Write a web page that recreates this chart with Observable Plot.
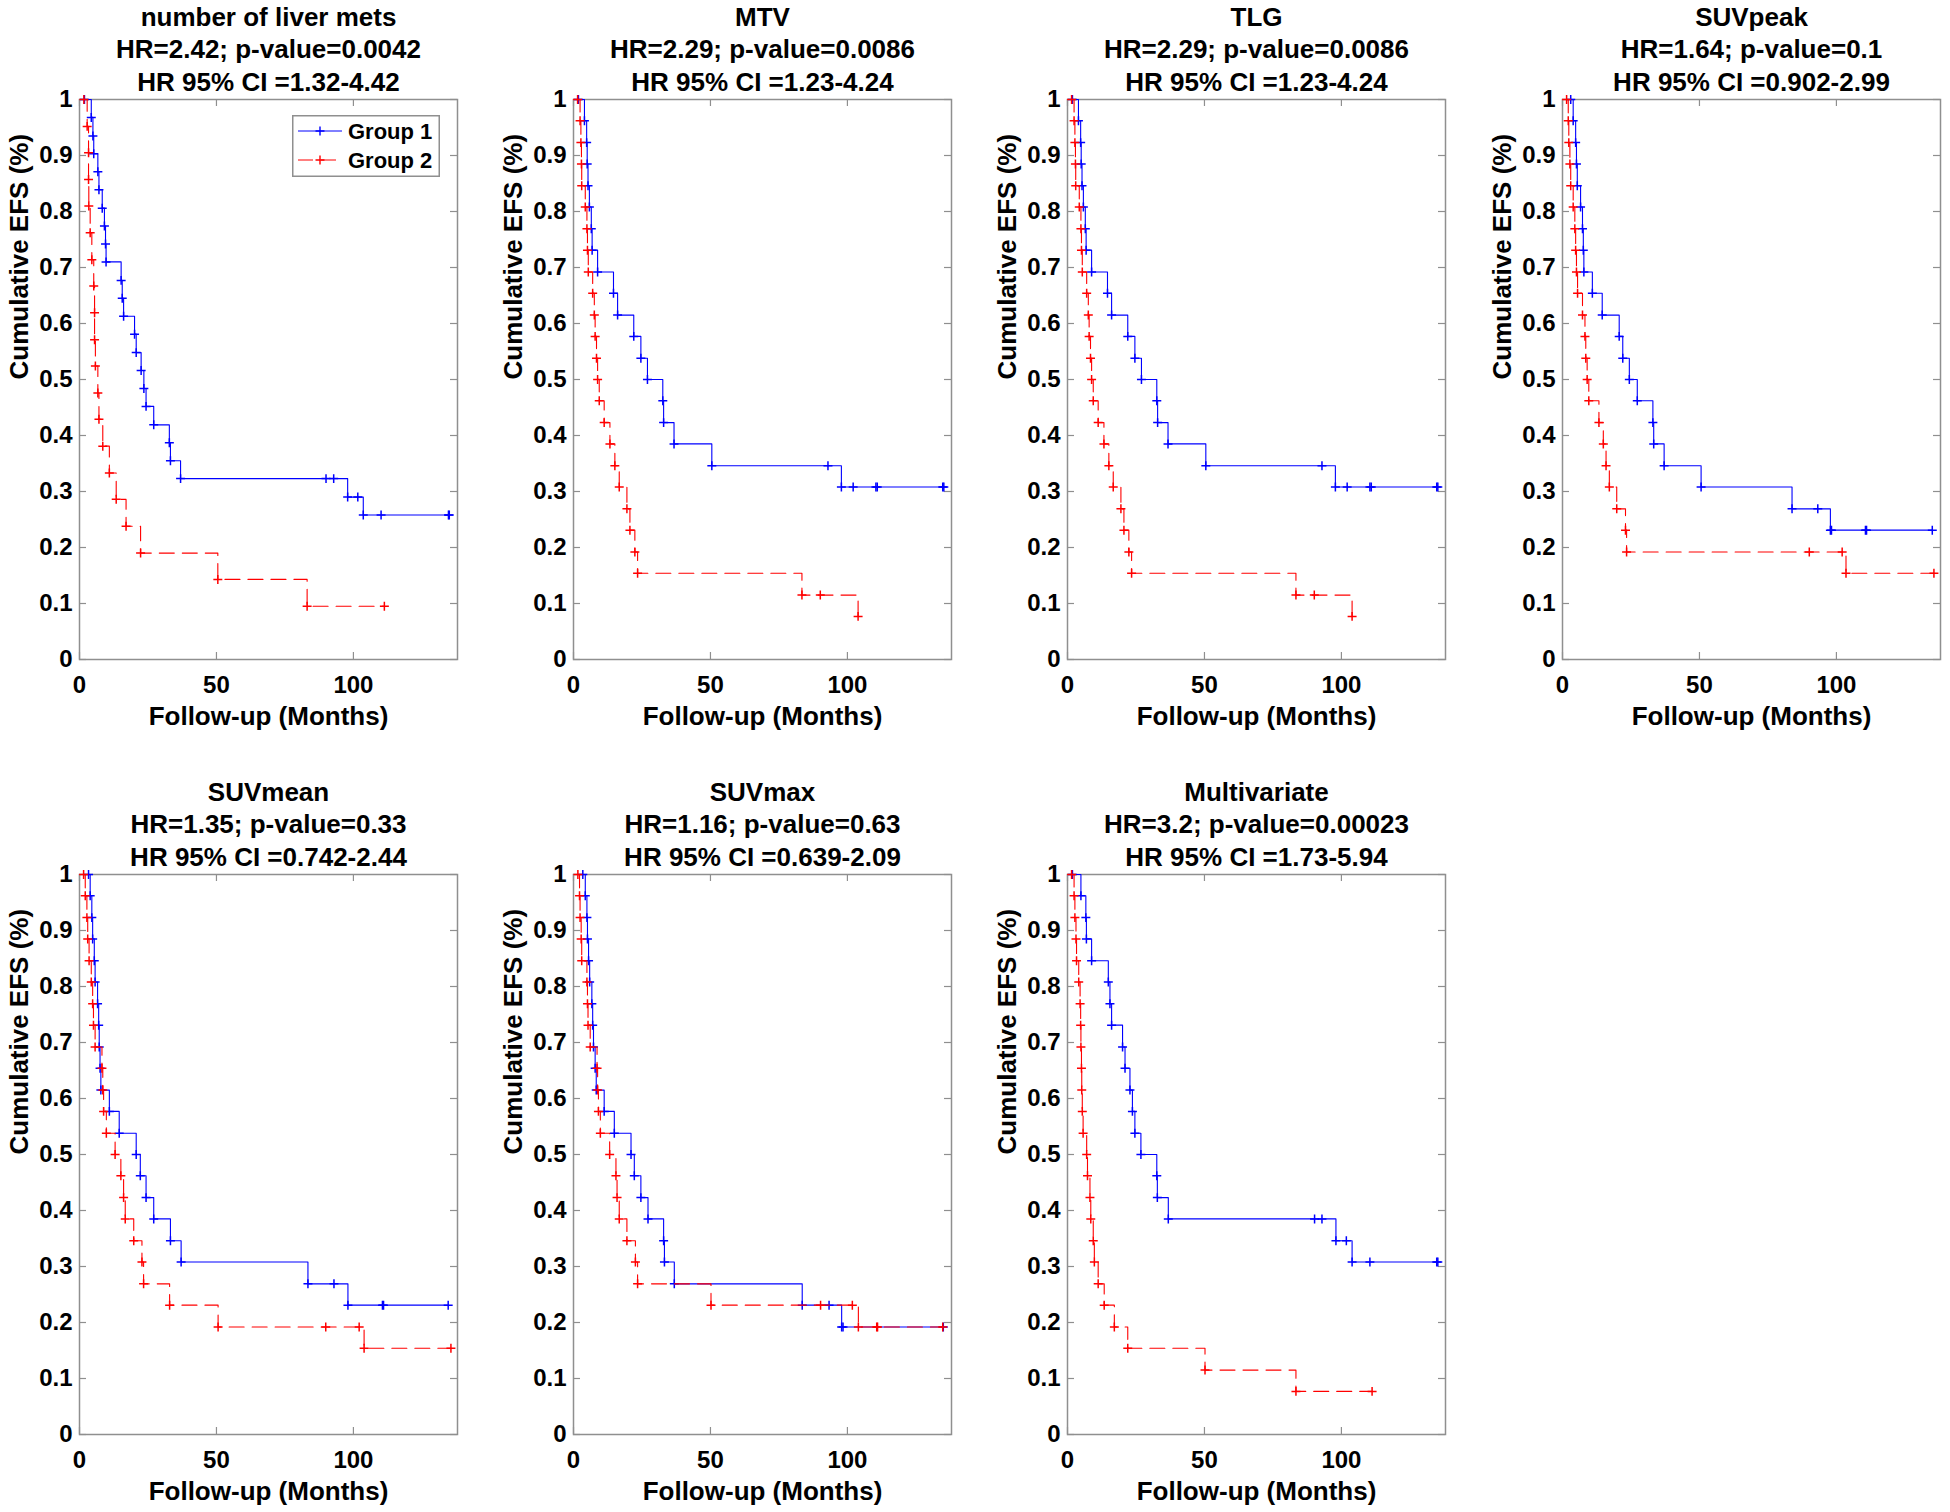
<!DOCTYPE html>
<html><head><meta charset="utf-8">
<script src="https://cdn.jsdelivr.net/npm/d3@7"></script>
<script src="https://cdn.jsdelivr.net/npm/@observablehq/plot@0.6"></script>
<style>
body{margin:0;background:#fff;}
#fig{position:relative;width:1950px;height:1512px;overflow:hidden;background:#fff;font-family:"Liberation Sans",Arial,Helvetica,sans-serif;}
.panel{position:absolute;}
.panel svg{overflow:visible;}
</style></head><body><div id="fig"></div>
<script>
// ---------- data (months, survival fraction) ----------
const xTicks = [0, 50, 100];
const yTicks = [0, 0.1, 0.2, 0.3, 0.4, 0.5, 0.6, 0.7, 0.8, 0.9, 1];
const groupNames = ["Group 1", "Group 2"];
const groupColors = ["#0000ff", "#ff0000"];
const groupDash = [null, "15,8"];

const titles = [
  ["number of liver mets", "HR=2.42; p-value=0.0042", "HR 95% CI =1.32-4.42"],
  ["MTV", "HR=2.29; p-value=0.0086", "HR 95% CI =1.23-4.24"],
  ["TLG", "HR=2.29; p-value=0.0086", "HR 95% CI =1.23-4.24"],
  ["SUVpeak", "HR=1.64; p-value=0.1", "HR 95% CI =0.902-2.99"],
  ["SUVmean", "HR=1.35; p-value=0.33", "HR 95% CI =0.742-2.44"],
  ["SUVmax", "HR=1.16; p-value=0.63", "HR 95% CI =0.639-2.09"],
  ["Multivariate", "HR=3.2; p-value=0.00023", "HR 95% CI =1.73-5.94"]
];

const liver_g1_t = [1.8, 4.3, 4.9, 5.2, 6.7, 7.1, 8.3, 9.1, 9.5, 9.7, 15.2, 15.6, 16.1, 20.1, 20.7, 22.5, 23.5, 24.3, 27.1, 32.8, 33.2, 36.9, 90.0, 92.8, 97.9, 101.6, 103.6, 110.1, 134.7, 135.0];
const liver_g1_s = [1, .968, .935, .903, .871, .839, .806, .774, .742, .710, .677, .645, .613, .581, .548, .516, .484, .452, .419, .387, .355, .323, .323, .323, .290, .290, .258, .258, .258, .258];
const liver_g2_t = [1.6, 2.8, 3.3, 3.3, 3.4, 3.9, 4.5, 5.2, 5.5, 5.5, 5.8, 6.7, 7.1, 8.5, 10.9, 13.4, 17.0, 22.3, 50.5, 83.1, 111.3];
const liver_g2_s = [1, .952, .905, .857, .810, .762, .714, .667, .619, .571, .524, .476, .429, .381, .333, .286, .238, .190, .143, .095, .095];

const mtv_g1_t = [1.8, 4.0, 4.8, 5.0, 5.3, 5.8, 6.5, 6.8, 8.8, 14.6, 16.1, 22.0, 24.6, 27.0, 32.6, 32.9, 36.7, 50.5, 92.9, 97.8, 102.1, 110.4, 110.9, 134.8, 135.2];
const mtv_g1_s = [1, .962, .923, .885, .846, .808, .769, .731, .692, .654, .615, .577, .538, .5, .462, .423, .385, .346, .346, .308, .308, .308, .308, .308, .308];
const mtv_g2_t = [1.5, 2.4, 2.7, 2.9, 3.0, 4.3, 4.9, 5.1, 5.4, 7.0, 7.6, 7.9, 8.4, 8.8, 9.4, 11.2, 13.3, 15.1, 16.7, 19.5, 20.6, 22.4, 23.4, 83.4, 90.1, 103.9];
const mtv_g2_s = [1, .962, .923, .885, .846, .808, .769, .731, .692, .654, .615, .577, .538, .5, .462, .423, .385, .346, .308, .269, .231, .192, .154, .115, .115, .077];

const tlg_g1_t = [1.8, 4.0, 4.8, 5.0, 5.3, 5.8, 6.5, 6.8, 8.8, 14.6, 16.1, 22.0, 24.6, 27.0, 32.6, 32.9, 36.7, 50.5, 92.9, 97.8, 102.1, 110.4, 110.9, 134.8, 135.2];
const tlg_g1_s = [1, .962, .923, .885, .846, .808, .769, .731, .692, .654, .615, .577, .538, .5, .462, .423, .385, .346, .346, .308, .308, .308, .308, .308, .308];
const tlg_g2_t = [1.5, 2.4, 2.7, 2.9, 3.0, 4.3, 4.9, 5.1, 5.4, 7.0, 7.6, 7.9, 8.4, 8.8, 9.4, 11.2, 13.3, 15.1, 16.7, 19.5, 20.6, 22.4, 23.4, 83.4, 90.1, 103.9];
const tlg_g2_s = [1, .962, .923, .885, .846, .808, .769, .731, .692, .654, .615, .577, .538, .5, .462, .423, .385, .346, .308, .269, .231, .192, .154, .115, .115, .077];

const peak_g1_t = [3.0, 3.9, 4.8, 5.1, 5.4, 6.6, 7.3, 7.6, 7.8, 10.9, 14.5, 20.7, 22.0, 24.4, 27.3, 33.0, 33.3, 37.1, 50.6, 83.8, 93.2, 97.8, 98.2, 110.6, 111.0, 135.0];
const peak_g1_s = [1, .962, .923, .885, .846, .808, .769, .731, .692, .654, .615, .577, .538, .5, .462, .423, .385, .346, .308, .269, .269, .231, .231, .231, .231, .231];
const peak_g2_t = [1.5, 2.1, 2.3, 2.7, 3.0, 3.9, 4.5, 4.8, 5.1, 5.5, 7.3, 8.2, 8.5, 9.0, 9.6, 13.3, 14.9, 15.9, 17.1, 19.8, 23.0, 23.4, 90.1, 102.1, 103.5, 135.6];
const peak_g2_s = [1, .962, .923, .885, .846, .808, .769, .731, .692, .654, .615, .577, .538, .5, .462, .423, .385, .346, .308, .269, .231, .192, .192, .192, .154, .154];

const mean_g1_t = [3.3, 3.9, 4.5, 4.8, 5.4, 5.7, 6.6, 7.0, 7.2, 7.5, 7.8, 10.9, 14.5, 20.7, 22.2, 24.3, 27.1, 33.2, 37.1, 83.4, 92.9, 98.0, 110.6, 111.0, 134.6];
const mean_g1_s = [1, .962, .923, .885, .846, .808, .769, .731, .692, .654, .615, .577, .538, .5, .462, .423, .385, .346, .308, .269, .269, .231, .231, .231, .231];
const mean_g2_t = [1.5, 2.1, 2.7, 3.0, 3.5, 4.3, 4.8, 5.1, 5.7, 8.2, 8.5, 8.8, 9.8, 13.0, 15.1, 16.1, 16.7, 19.8, 22.8, 23.4, 32.9, 50.6, 89.9, 102.1, 103.9, 135.6];
const mean_g2_s = [1, .962, .923, .885, .846, .808, .769, .731, .692, .654, .615, .577, .538, .5, .462, .423, .385, .346, .308, .269, .231, .192, .192, .192, .154, .154];

const max_g1_t = [3.4, 4.3, 4.9, 5.1, 5.5, 5.9, 6.7, 7.0, 7.3, 7.9, 8.3, 11.2, 14.9, 21.0, 22.2, 24.6, 27.2, 32.9, 33.2, 36.8, 83.5, 93.3, 97.9, 98.4, 135.0];
const max_g1_s = [1, .962, .923, .885, .846, .808, .769, .731, .692, .654, .615, .577, .538, .5, .462, .423, .385, .346, .308, .269, .231, .231, .192, .192, .192];
const max_g2_t = [1.6, 2.2, 2.4, 2.8, 3.0, 4.9, 5.1, 5.3, 6.1, 8.6, 8.8, 9.1, 9.8, 13.2, 15.5, 15.9, 16.7, 19.5, 22.6, 23.4, 50.2, 90.2, 101.8, 104.0, 110.7, 111.0, 134.8];
const max_g2_s = [1, .962, .923, .885, .846, .808, .769, .731, .692, .654, .615, .577, .538, .5, .462, .423, .385, .346, .308, .269, .231, .231, .231, .192, .192, .192, .192];

const multi_g1_t = [1.8, 4.9, 6.7, 6.9, 8.8, 14.9, 15.5, 16.1, 20.1, 21.0, 22.8, 23.7, 24.6, 26.8, 32.6, 32.8, 36.8, 90.2, 92.9, 98.0, 101.8, 103.9, 110.4, 134.8, 135.2];
const multi_g1_s = [1, .962, .923, .885, .846, .808, .769, .731, .692, .654, .615, .577, .538, .5, .462, .423, .385, .385, .385, .346, .346, .308, .308, .308, .308];
const multi_g2_t = [1.5, 2.4, 2.7, 3.1, 3.3, 4.1, 4.6, 4.8, 4.9, 5.1, 5.2, 5.4, 5.7, 7.0, 7.3, 8.2, 8.5, 9.4, 9.8, 11.2, 13.4, 17.1, 22.0, 50.2, 83.4, 111.2];
const multi_g2_s = [1, .962, .923, .885, .846, .808, .769, .731, .692, .654, .615, .577, .538, .5, .462, .423, .385, .346, .308, .269, .231, .192, .154, .115, .077, .077];

const panelSeries = [
  [[liver_g1_t, liver_g1_s], [liver_g2_t, liver_g2_s]],
  [[mtv_g1_t, mtv_g1_s], [mtv_g2_t, mtv_g2_s]],
  [[tlg_g1_t, tlg_g1_s], [tlg_g2_t, tlg_g2_s]],
  [[peak_g1_t, peak_g1_s], [peak_g2_t, peak_g2_s]],
  [[mean_g1_t, mean_g1_s], [mean_g2_t, mean_g2_s]],
  [[max_g1_t, max_g1_s], [max_g2_t, max_g2_s]],
  [[multi_g1_t, multi_g1_s], [multi_g2_t, multi_g2_s]]
];

// ---------- layout ----------
const FONT = '"Liberation Sans", Arial, Helvetica, sans-serif';
const AX = "#8f8f8f";
const W = 467, H = 738, ML = 79, MR = 10, MT = 99, MB = 79;
const PW = W - ML - MR, PH = H - MT - MB;
const TICK = 7;
const panelPos = [[0, 0], [494, 0], [988, 0], [1483, 0], [0, 775], [494, 775], [988, 775]];

const fig = document.getElementById("fig");

function makePanel(i) {
  const marks = [];
  marks.push(Plot.frame({stroke: AX, strokeWidth: 1.5}));
  // inward ticks, MATLAB style
  marks.push(Plot.tickY(yTicks, {y: d => d, insetRight: PW - TICK, stroke: AX, strokeWidth: 1.2}));
  marks.push(Plot.tickY(yTicks, {y: d => d, insetLeft: PW - TICK, stroke: AX, strokeWidth: 1.2}));
  marks.push(Plot.tickX(xTicks, {x: d => d, insetTop: PH - TICK, stroke: AX, strokeWidth: 1.2}));
  marks.push(Plot.tickX(xTicks, {x: d => d, insetBottom: PH - TICK, stroke: AX, strokeWidth: 1.2}));
  panelSeries[i].forEach(([ts, ss], g) => {
    const data = ts.map((t, k) => ({t, s: ss[k]}));
    marks.push(Plot.line(data, {x: "t", y: "s", curve: "step-after", stroke: groupColors[g], strokeWidth: 1.1,
      strokeDasharray: groupDash[g] || undefined}));
    marks.push(Plot.dot(data, {x: "t", y: "s", symbol: "plus", r: 3, stroke: groupColors[g], fill: "none", strokeWidth: 1.5}));
  });
  const dys = [-74, -41.5, -9];
  titles[i].forEach((line, k) => {
    marks.push(Plot.text([line], {text: d => d, frameAnchor: "top", dy: dys[k], lineAnchor: "bottom",
      fontSize: 26, fontWeight: "bold", fill: "#000"}));
  });
  marks.push(Plot.text(["Follow-up (Months)"], {text: d => d, frameAnchor: "bottom", dy: 65.5, lineAnchor: "bottom",
    fontSize: 26, fontWeight: "bold", fill: "#000"}));
  marks.push(Plot.text(["Cumulative EFS (%)"], {text: d => d, frameAnchor: "left", dx: -52, rotate: -90, lineAnchor: "bottom",
    fontSize: 26, fontWeight: "bold", fill: "#000"}));

  const svg = Plot.plot({
    width: W, height: H, marginLeft: ML, marginRight: MR, marginTop: MT, marginBottom: MB,
    style: {fontFamily: FONT, fontSize: "24px", fontWeight: "bold", color: "#000", background: "transparent", overflow: "visible"},
    x: {domain: [0, 138], ticks: xTicks, tickSize: 0, tickPadding: 16, label: null},
    y: {domain: [0, 1], ticks: yTicks, tickSize: 0, tickPadding: 7, tickFormat: d3.format("~g"), label: null},
    marks
  });
  const div = document.createElement("div");
  div.className = "panel";
  div.style.left = panelPos[i][0] + "px";
  div.style.top = panelPos[i][1] + "px";
  div.appendChild(svg);
  fig.appendChild(div);
}

for (let i = 0; i < titles.length; i++) makePanel(i);

// ---------- legend (first panel) ----------
const lg = d3.select(fig).append("svg")
  .attr("width", 148).attr("height", 62)
  .style("position", "absolute").style("left", "292px").style("top", "115px");
lg.append("rect").attr("x", 0.75).attr("y", 0.75).attr("width", 146.5).attr("height", 60.5)
  .attr("fill", "#fff").attr("stroke", AX).attr("stroke-width", 1.5);
groupNames.forEach((name, g) => {
  const y = 16 + g * 29;
  lg.append("line").attr("x1", 6).attr("x2", 50).attr("y1", y).attr("y2", y)
    .attr("stroke", groupColors[g]).attr("stroke-width", 1).attr("stroke-dasharray", groupDash[g]);
  lg.append("path").attr("d", `M23.5,${y}H32.5M28,${y - 4.5}V${y + 4.5}`)
    .attr("stroke", groupColors[g]).attr("stroke-width", 1.4);
  lg.append("text").attr("x", 56).attr("y", y + 8).text(name)
    .attr("font-family", FONT).attr("font-size", 22).attr("font-weight", "bold").attr("fill", "#000");
});
</script></body></html>
